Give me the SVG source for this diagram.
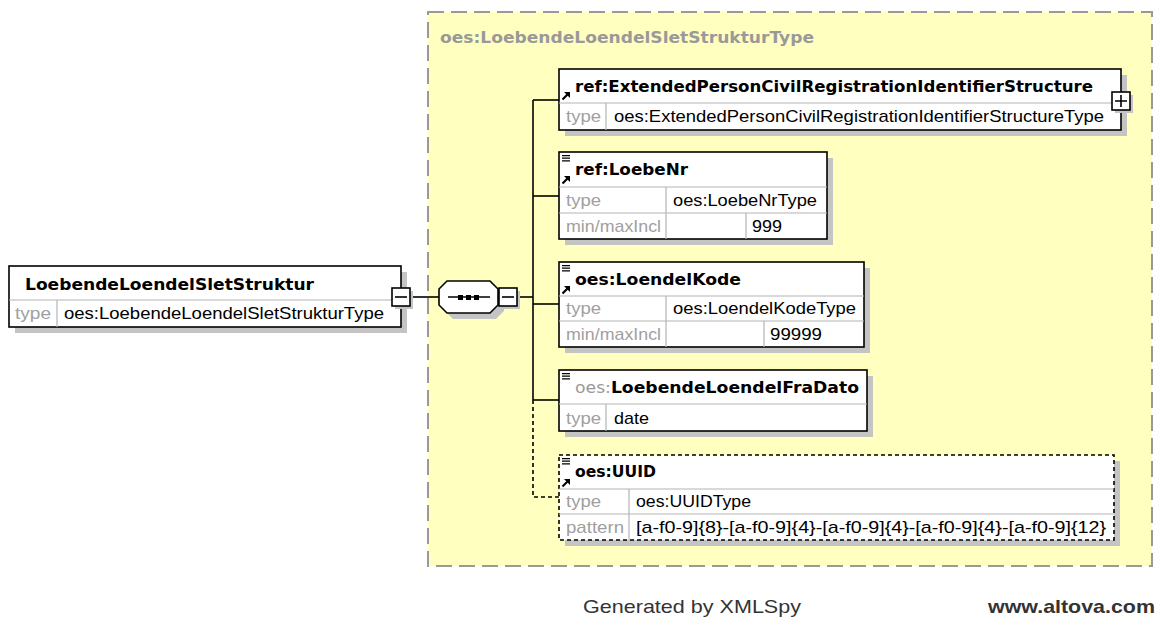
<svg xmlns="http://www.w3.org/2000/svg" width="1157" height="619" viewBox="0 0 1157 619">
<style>
.bg{fill:#ffffff}
.container{fill:#ffffc0;stroke:#999999;stroke-width:2;stroke-dasharray:16,7}
.shadow{fill:#c4c4c4}
.box{fill:#ffffff;stroke:#000000;stroke-width:1.6}
.dbox{fill:#ffffff;stroke:#000000;stroke-width:1.6;stroke-dasharray:4,3}
.div{stroke:#b4b4b4;stroke-width:1.2;fill:none}
.conn{stroke:#000000;stroke-width:1.6;fill:none}
.dconn{stroke:#000000;stroke-width:1.6;fill:none;stroke-dasharray:4,3}
.name{font-family:"DejaVu Sans","Liberation Sans",sans-serif;font-weight:bold;font-size:16.5px;fill:#000000}
.title{font-family:"DejaVu Sans","Liberation Sans",sans-serif;font-weight:bold;font-size:16.5px;fill:#999999}
.lbl{font-family:"Liberation Sans",Arial,sans-serif;font-size:17px;fill:#a0a0a0}
.val{font-family:"Liberation Sans",Arial,sans-serif;font-size:17px;fill:#000000}
.gray{fill:#999999}
.btn{fill:#ffffff;stroke:#000000;stroke-width:1.6}
.foot{font-family:"Liberation Sans",Arial,sans-serif;font-size:19px;fill:#333333}
.footb{font-family:"Liberation Sans",Arial,sans-serif;font-size:19px;font-weight:bold;fill:#333333}
</style>
<defs>
<g id="arrowIcon">
<path d="M0.5,7.5 L5.5,2.5" stroke="#000" stroke-width="2.2"/>
<path d="M2,0 L8,0 L8,6 Z" fill="#000"/>
</g>
<g id="listIcon">
<path d="M0,0.6 H8 M0,3.2 H8 M0,5.8 H8" stroke="#000" stroke-width="1.2"/>
</g>
</defs>
<rect class="bg" x="0" y="0" width="1157" height="619"/>

<g id="container">
<rect class="container" x="428" y="12" width="724" height="554"/>
<text class="title" x="440" y="43" textLength="374" lengthAdjust="spacingAndGlyphs">oes:LoebendeLoendelSletStrukturType</text>
</g>

<g id="connectors">
<line class="conn" x1="410" y1="297" x2="439" y2="297"/>
<line class="conn" x1="517" y1="297" x2="533" y2="297"/>
<line class="conn" x1="533" y1="100" x2="533" y2="400"/>
<line class="conn" x1="533" y1="100" x2="559" y2="100"/>
<line class="conn" x1="533" y1="196" x2="559" y2="196"/>
<line class="conn" x1="533" y1="304" x2="559" y2="304"/>
<line class="conn" x1="533" y1="400" x2="559" y2="400"/>
<path class="dconn" d="M533,400 V497 H559"/>
</g>

<g id="root">
<rect class="shadow" x="15" y="272" width="392" height="61"/>
<rect class="box" x="9" y="266" width="392" height="61"/>
<line class="div" x1="9" y1="300" x2="401" y2="300"/>
<line class="div" x1="57" y1="300" x2="57" y2="327"/>
<text class="name" x="25" y="290" textLength="289" lengthAdjust="spacingAndGlyphs">LoebendeLoendelSletStruktur</text>
<text class="lbl" x="15" y="319" textLength="36" lengthAdjust="spacingAndGlyphs">type</text>
<text class="val" x="64" y="319" textLength="320" lengthAdjust="spacingAndGlyphs">oes:LoebendeLoendelSletStrukturType</text>
<rect class="shadow" x="395" y="291" width="18" height="18"/>
<rect class="btn" x="392" y="288" width="18" height="18"/>
<line class="conn" x1="395" y1="297" x2="407" y2="297"/>
</g>

<g id="sequence">
<polygon class="shadow" points="453,287 496,287 504,295 504,311 496,319 453,319 445,311 445,295"/>
<polygon class="box" points="447,281 490,281 498,289 498,305 490,313 447,313 439,305 439,289"/>
<line class="conn" x1="448" y1="297" x2="490" y2="297"/>
<rect x="458" y="295" width="5" height="5" fill="#000"/>
<rect x="466" y="295" width="5" height="5" fill="#000"/>
<rect x="474" y="295" width="5" height="5" fill="#000"/>
<rect class="shadow" x="502" y="291" width="18" height="18"/>
<rect class="btn" x="499" y="288" width="18" height="18"/>
<line class="conn" x1="502" y1="297" x2="514" y2="297"/>
</g>

<g id="ExtendedPersonCivilRegistrationIdentifierStructure">
<rect class="shadow" x="565" y="75" width="562" height="61"/>
<rect class="box" x="559" y="69" width="562" height="61"/>
<line class="div" x1="559" y1="103" x2="1121" y2="103"/>
<line class="div" x1="606" y1="103" x2="606" y2="130"/>
<use href="#arrowIcon" x="562" y="92"/>
<text class="name" x="575" y="92" textLength="518" lengthAdjust="spacingAndGlyphs">ref:ExtendedPersonCivilRegistrationIdentifierStructure</text>
<text class="lbl" x="566" y="122" textLength="35" lengthAdjust="spacingAndGlyphs">type</text>
<text class="val" x="614" y="122" textLength="490" lengthAdjust="spacingAndGlyphs">oes:ExtendedPersonCivilRegistrationIdentifierStructureType</text>
<rect class="shadow" x="1115" y="95" width="18" height="18"/>
<rect class="btn" x="1112" y="92" width="18" height="18"/>
<path class="conn" d="M1115,101 H1127 M1121,95 V107"/>
</g>

<g id="LoebeNr">
<rect class="shadow" x="565" y="158" width="268" height="87"/>
<rect class="box" x="559" y="152" width="268" height="87"/>
<line class="div" x1="559" y1="187" x2="827" y2="187"/>
<line class="div" x1="559" y1="213" x2="827" y2="213"/>
<line class="div" x1="666" y1="187" x2="666" y2="239"/>
<line class="div" x1="746" y1="213" x2="746" y2="239"/>
<use href="#listIcon" x="562" y="155"/>
<use href="#arrowIcon" x="562" y="176"/>
<text class="name" x="575" y="175" textLength="113" lengthAdjust="spacingAndGlyphs">ref:LoebeNr</text>
<text class="lbl" x="566" y="206" textLength="35" lengthAdjust="spacingAndGlyphs">type</text>
<text class="val" x="673" y="206" textLength="144" lengthAdjust="spacingAndGlyphs">oes:LoebeNrType</text>
<text class="lbl" x="566" y="232" textLength="95" lengthAdjust="spacingAndGlyphs">min/maxIncl</text>
<text class="val" x="752" y="232" textLength="30" lengthAdjust="spacingAndGlyphs">999</text>
</g>

<g id="LoendelKode">
<rect class="shadow" x="565" y="268" width="305" height="85"/>
<rect class="box" x="559" y="262" width="305" height="85"/>
<line class="div" x1="559" y1="296" x2="864" y2="296"/>
<line class="div" x1="559" y1="321" x2="864" y2="321"/>
<line class="div" x1="666" y1="296" x2="666" y2="347"/>
<line class="div" x1="764" y1="321" x2="764" y2="347"/>
<use href="#listIcon" x="562" y="265"/>
<use href="#arrowIcon" x="562" y="286"/>
<text class="name" x="575" y="285" textLength="166" lengthAdjust="spacingAndGlyphs">oes:LoendelKode</text>
<text class="lbl" x="566" y="314" textLength="35" lengthAdjust="spacingAndGlyphs">type</text>
<text class="val" x="673" y="314" textLength="183" lengthAdjust="spacingAndGlyphs">oes:LoendelKodeType</text>
<text class="lbl" x="566" y="340" textLength="95" lengthAdjust="spacingAndGlyphs">min/maxIncl</text>
<text class="val" x="770" y="340" textLength="52" lengthAdjust="spacingAndGlyphs">99999</text>
</g>

<g id="LoebendeLoendelFraDato">
<rect class="shadow" x="565" y="376" width="308" height="61"/>
<rect class="box" x="559" y="370" width="308" height="61"/>
<line class="div" x1="559" y1="404" x2="867" y2="404"/>
<line class="div" x1="606" y1="404" x2="606" y2="431"/>
<use href="#listIcon" x="562" y="373"/>
<text class="name" x="575" y="393" textLength="284" lengthAdjust="spacingAndGlyphs"><tspan class="gray" font-weight="normal">oes:</tspan>LoebendeLoendelFraDato</text>
<text class="lbl" x="566" y="424" textLength="35" lengthAdjust="spacingAndGlyphs">type</text>
<text class="val" x="614" y="424" textLength="35" lengthAdjust="spacingAndGlyphs">date</text>
</g>

<g id="UUID">
<rect class="shadow" x="565" y="461" width="555" height="85"/>
<rect class="dbox" x="559" y="455" width="555" height="85"/>
<line class="div" x1="559" y1="489" x2="1114" y2="489"/>
<line class="div" x1="559" y1="514" x2="1114" y2="514"/>
<line class="div" x1="629" y1="489" x2="629" y2="540"/>
<use href="#listIcon" x="562" y="458"/>
<use href="#arrowIcon" x="562" y="479"/>
<text class="name" x="575" y="477" textLength="81" lengthAdjust="spacingAndGlyphs">oes:UUID</text>
<text class="lbl" x="566" y="507" textLength="35" lengthAdjust="spacingAndGlyphs">type</text>
<text class="val" x="636" y="507" textLength="115" lengthAdjust="spacingAndGlyphs">oes:UUIDType</text>
<text class="lbl" x="566" y="533" textLength="58" lengthAdjust="spacingAndGlyphs">pattern</text>
<text class="val" x="636" y="533" textLength="470" lengthAdjust="spacingAndGlyphs">[a-f0-9]{8}-[a-f0-9]{4}-[a-f0-9]{4}-[a-f0-9]{4}-[a-f0-9]{12}</text>
</g>

<g id="footer">
<text class="foot" x="583" y="613" textLength="218" lengthAdjust="spacingAndGlyphs">Generated by XMLSpy</text>
<text class="footb" x="988" y="613" textLength="167" lengthAdjust="spacingAndGlyphs">www.altova.com</text>
</g>
</svg>
